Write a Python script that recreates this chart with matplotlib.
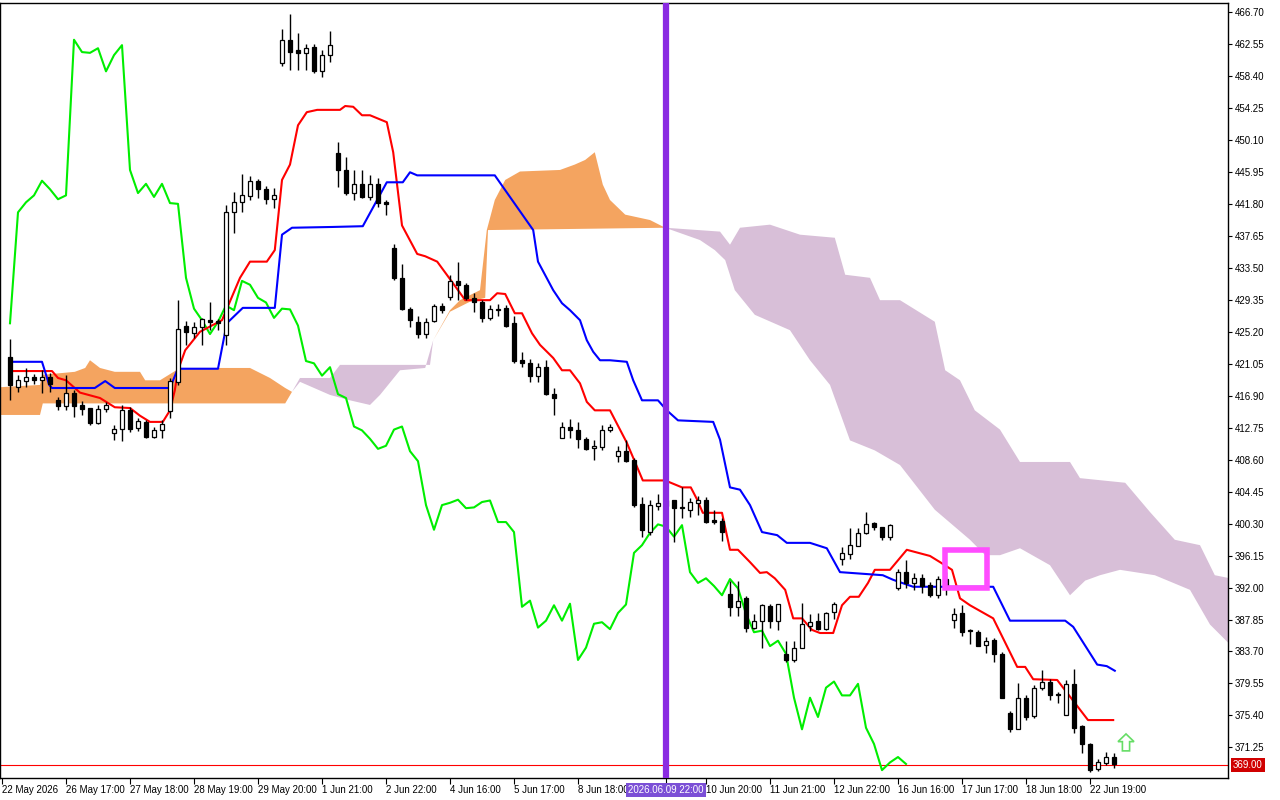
import numpy as np
import matplotlib
matplotlib.use("Agg")
import matplotlib.pyplot as plt
from matplotlib.patches import Rectangle, FancyArrow

plt.rcParams['font.family'] = ['Liberation Sans', 'DejaVu Sans']

# candles: open, high, low, close  (bar index = position in list)
ohlc = [
    (421.9, 424.3, 416.3, 418.3), (418.0, 419.6, 417.4, 419.0), (418.8, 420.5, 418.0, 419.3),
    (419.3, 419.7, 418.4, 419.0), (419.0, 420.2, 417.3, 419.3), (419.3, 419.9, 417.4, 418.4),
    (416.4, 416.7, 415.1, 415.5), (415.5, 419.6, 415.1, 417.3), (417.3, 417.6, 414.1, 415.5),
    (415.7, 416.2, 414.4, 415.2), (415.3, 415.3, 413.1, 413.4), (413.4, 415.7, 413.2, 415.2),
    (415.2, 416.1, 414.8, 415.7), (412.1, 413.1, 411.2, 412.6), (412.6, 415.7, 411.0, 415.0),
    (415.0, 415.4, 412.2, 412.6), (412.7, 414.0, 412.3, 413.6), (413.5, 413.8, 411.4, 411.5),
    (411.5, 412.8, 411.4, 412.4), (412.4, 413.8, 411.4, 413.2), (414.9, 419.2, 414.0, 418.8),
    (418.7, 429.3, 418.3, 425.6), (425.9, 426.6, 423.5, 425.2), (425.0, 426.5, 424.4, 425.8),
    (425.8, 427.0, 423.5, 426.8), (426.7, 429.1, 425.4, 426.5), (426.6, 426.8, 425.4, 426.3),
    (424.8, 441.7, 423.5, 440.7), (440.7, 443.3, 438.0, 442.0), (442.0, 445.7, 440.7, 442.9),
    (442.8, 445.4, 442.3, 444.8), (444.8, 445.0, 442.6, 443.7), (443.7, 444.1, 441.8, 442.4),
    (442.4, 443.9, 441.3, 442.9), (460.1, 464.5, 459.7, 463.1), (463.1, 466.4, 459.2, 461.5),
    (461.8, 464.0, 459.2, 461.4), (461.4, 462.5, 459.2, 462.0), (462.1, 462.5, 458.8, 459.0),
    (459.0, 461.8, 458.3, 461.1), (461.1, 464.2, 460.2, 462.4), (448.4, 449.8, 444.0, 446.2),
    (446.2, 447.9, 442.9, 443.2), (443.2, 446.2, 442.3, 444.4), (444.4, 446.2, 442.6, 442.7),
    (442.7, 445.5, 442.3, 444.4), (444.4, 445.2, 441.4, 441.9), (442.0, 442.3, 440.4, 441.8),
    (436.1, 436.6, 431.9, 432.2), (432.2, 434.0, 428.0, 428.2), (428.2, 428.4, 425.8, 426.7),
    (426.5, 427.2, 424.4, 424.9), (424.9, 427.0, 424.4, 426.5), (426.6, 428.8, 426.5, 428.6),
    (428.5, 428.9, 427.6, 428.0), (429.7, 432.6, 429.3, 431.8), (431.8, 434.2, 429.3, 431.3),
    (431.3, 431.5, 429.3, 429.6), (429.6, 430.2, 427.8, 429.0), (429.0, 429.3, 426.5, 427.0),
    (427.0, 428.7, 426.7, 428.2), (428.0, 428.8, 427.2, 428.1), (428.3, 428.7, 425.8, 426.0),
    (426.3, 427.2, 421.1, 421.4), (421.5, 422.6, 420.6, 421.1), (421.1, 421.7, 418.7, 419.5),
    (419.5, 421.1, 418.7, 420.6), (420.6, 421.5, 417.0, 417.1), (417.1, 417.9, 414.4, 416.6),
    (411.4, 413.5, 411.4, 412.9), (412.9, 413.9, 411.4, 412.4), (412.4, 413.5, 410.1, 411.3),
    (411.3, 411.5, 409.9, 410.0), (410.1, 411.2, 408.6, 410.4), (410.3, 413.1, 409.9, 412.5),
    (412.4, 413.2, 412.2, 412.9), (409.1, 410.4, 408.3, 409.7), (409.7, 411.2, 408.3, 408.4),
    (408.6, 408.8, 402.5, 402.7), (402.9, 403.8, 398.6, 399.5), (399.2, 403.4, 398.8, 402.7),
    (402.6, 404.2, 402.1, 403.0), (402.6, 405.0, 401.0, 403.4), (403.4, 403.4, 397.9, 402.3),
    (402.3, 405.0, 401.0, 402.4), (402.1, 403.6, 401.2, 403.1), (403.0, 403.9, 401.4, 403.3),
    (403.3, 403.8, 400.4, 400.5), (400.8, 402.1, 400.3, 400.5), (400.6, 401.0, 398.1, 399.2),
    (391.2, 392.9, 388.3, 389.5), (389.5, 392.9, 388.3, 390.3), (390.6, 390.9, 386.2, 386.8),
    (386.8, 388.6, 386.6, 387.7), (387.6, 389.9, 384.2, 389.7), (389.6, 389.9, 386.8, 387.7),
    (387.7, 389.9, 386.5, 389.9), (383.4, 385.1, 382.3, 382.6), (382.6, 385.1, 382.3, 384.2),
    (384.2, 390.0, 384.2, 387.3), (387.0, 388.6, 386.4, 387.5), (387.6, 388.7, 386.5, 386.6),
    (386.6, 388.8, 386.5, 388.7), (388.8, 390.1, 387.9, 389.8), (395.7, 397.3, 394.9, 396.5),
    (396.4, 399.7, 395.7, 397.5), (397.4, 399.7, 397.4, 399.1), (399.1, 401.8, 398.9, 400.2),
    (400.4, 400.5, 399.5, 399.9), (399.9, 399.9, 398.2, 398.6), (398.6, 400.3, 398.2, 400.1),
    (391.9, 394.4, 391.7, 394.0), (394.0, 395.6, 392.0, 392.6), (392.6, 393.9, 391.7, 393.2),
    (393.2, 393.8, 391.3, 392.2), (392.3, 392.7, 390.8, 391.0), (391.0, 393.5, 390.7, 393.1),
    (393.1, 394.0, 391.0, 391.9), (387.8, 389.4, 386.8, 388.6), (388.7, 389.7, 385.7, 386.2),
    (386.4, 386.6, 384.7, 386.4), (386.2, 386.5, 384.4, 384.4), (384.5, 385.6, 383.5, 385.1),
    (385.2, 385.5, 382.3, 383.4), (383.4, 383.6, 377.7, 377.7), (375.7, 376.0, 373.3, 373.6),
    (373.7, 379.6, 373.6, 377.7), (377.7, 378.1, 374.8, 375.2), (375.3, 379.4, 375.1, 379.0),
    (379.0, 381.3, 378.7, 379.8), (379.8, 380.1, 377.4, 378.0), (378.1, 378.5, 377.0, 378.0),
    (375.4, 380.0, 375.4, 379.5), (379.5, 381.4, 373.1, 373.8), (374.0, 374.1, 370.5, 371.7),
    (371.7, 371.8, 368.0, 368.3), (368.4, 369.8, 368.2, 369.3), (369.2, 370.7, 369.0, 370.0),
    (370.0, 370.5, 368.6, 369.1),
]

# Tenkan-sen (bar, price)
tenkan_x = [0, 5.25, 6, 7, 8.75, 11.25, 13.1, 15, 16.25, 17.5, 19.1, 20, 20.6, 21, 21.9, 23.75, 26.5,
            28.75, 30, 32.1, 33.1, 34, 35, 36, 37.1, 38.4, 41.25, 41.9, 42.9, 44, 45, 47.1, 47.9, 49,
            50.9, 51.9, 53.4, 54.6, 56, 56.9, 58.4, 60, 60.9, 61.9, 63.1, 64, 65.25, 66.25, 67.9, 69,
            70, 71.25, 72.1, 73.1, 75, 77.1, 79.1, 81.9, 84, 85.1, 85.9, 86.6, 89, 90, 91, 92.5, 93.75,
            94.6, 95.6, 96.9, 97.9, 99, 100.25, 101.25, 102.9, 104, 105, 106.1, 107.25, 108.1, 110,
            112.1, 115, 116.25, 117.75, 118.75, 120, 122.9, 125.9, 126.9, 127.9, 130.9, 134.75, 137.9]
tenkan_y = [420.1, 420.1, 419.2, 418.9, 417.3, 416.6, 415.4, 415.3, 414.3, 413.5, 413.5, 415.0, 417.6,
            420.2, 422.8, 425.2, 426.7, 432.2, 434.3, 434.3, 435.8, 444.9, 446.9, 452.0, 453.7, 454.0,
            454.0, 454.5, 454.4, 453.3, 453.3, 452.4, 448.5, 439.0, 435.3, 435.0, 434.3, 432.6, 430.6,
            429.3, 429.3, 429.3, 430.2, 430.1, 427.6, 427.6, 425.0, 423.5, 421.8, 420.2, 420.2, 418.5,
            416.1, 415.0, 415.0, 410.8, 405.9, 405.9, 405.0, 405.0, 403.4, 401.7, 401.7, 396.9, 396.9,
            395.3, 393.9, 394.0, 393.2, 391.7, 388.0, 388.0, 386.5, 386.1, 386.1, 389.7, 390.8, 390.8,
            392.6, 394.3, 394.3, 396.9, 396.1, 395.3, 394.3, 390.6, 389.7, 388.0, 381.7, 381.7, 380.1,
            380.0, 374.8, 374.8]

# Kijun-sen (bar, price)
kijun_x = [0, 4, 4.9, 5.25, 10.6, 11.9, 13.1, 20, 20.9, 21.25, 26, 27.1, 29.1, 33.1, 34, 35.25, 40.25,
           44.1, 47.1, 49.1, 50, 50.9, 60.6, 65.4, 66, 67.9, 69, 70, 71.25, 72.1, 72.9, 73.75, 75, 77.1,
           77.9, 79, 81, 82.1, 83.5, 87.9, 88.75, 90, 91.25, 92.5, 94, 95.9, 97.1, 100, 102.1, 103.75,
           109.1, 110.4, 112.9, 122.9, 125, 131.9, 132.9, 135.9, 137.1, 138.1]
kijun_y = [421.3, 421.3, 418.3, 417.9, 417.9, 418.8, 417.9, 417.9, 420.2, 420.4, 420.4, 426.3, 428.3,
           428.3, 437.8, 438.7, 438.8, 438.9, 444.6, 444.6, 445.9, 445.5, 445.5, 438.4, 434.3, 430.6,
           428.9, 428.0, 426.7, 424.1, 422.6, 421.5, 421.5, 421.3, 418.9, 416.3, 416.3, 415.0, 413.7,
           413.5, 411.2, 405.0, 404.7, 402.7, 399.2, 398.8, 397.8, 397.8, 397.1, 394.0, 393.6, 393.0,
           392.1, 392.1, 387.7, 387.7, 386.9, 382.0, 381.8, 381.2]

# Kumo outlines (already shifted forward)
orange1_top_x = [-1.25, 3.75, 4, 8.1, 9.4, 10, 11.25, 13.1, 16.25, 16.9, 18.75, 21.25, 30, 32.5, 34.4, 35.25]
orange1_top_y = [418.0, 418.3, 419.6, 420.0, 420.5, 421.5, 420.5, 420.0, 420.0, 418.9, 418.9, 420.5,
                 420.5, 419.2, 417.9, 417.4]
orange1_bot_x = [-1.25, 3.75, 4.1, 34.4, 35.25]
orange1_bot_y = [414.4, 414.4, 415.9, 415.9, 417.4]

thistle1_top_x = [35.25, 36.25, 40, 41.25, 52.5, 52.9]
thistle1_top_y = [417.4, 419.2, 419.2, 420.9, 420.9, 424.1]
thistle1_bot_x = [35.25, 36.25, 40, 42.5, 45, 46.25, 48.75, 51.9, 52.9]
thistle1_bot_y = [417.4, 418.7, 417.0, 416.3, 415.7, 417.0, 420.2, 420.5, 424.1]

orange2_top_x = [52.9, 55, 56.25, 58.75, 59.6, 60.6, 61.9, 63.75, 68.75, 70.6, 71.9, 73.1, 74.1, 75,
                 76.9, 80, 81.9]
orange2_top_y = [424.1, 428.0, 429.3, 430.6, 438.4, 442.3, 444.9, 446.0, 446.2, 446.9, 447.5, 448.5,
                 444.3, 442.3, 440.4, 439.7, 438.7]
orange2_bot_x = [52.9, 55, 57.5, 59.4, 59.75, 81.9]
orange2_bot_y = [424.1, 427.8, 429.1, 429.6, 438.4, 438.7]

thistle2_top_x = [81.9, 88.75, 90, 91.25, 95, 98.75, 103.1, 104.4, 107.5, 108.75, 111.25, 115.6, 116.9,
                  118.75, 120.6, 123.75, 126.25, 132.5, 133.75, 139.4, 142.5, 145.6, 148.75, 150.6, 152.5]
thistle2_top_y = [438.7, 438.2, 436.5, 438.7, 439.1, 437.8, 437.4, 432.6, 432.2, 429.3, 429.3, 426.5,
                  420.2, 418.9, 415.0, 412.5, 408.3, 408.3, 406.2, 405.6, 401.8, 398.2, 397.5, 393.6, 393.2]
thistle2_bot_x = [81.9, 86.25, 88.1, 89.4, 90.6, 93.1, 97.5, 100, 102.5, 105, 108.1, 111.25, 115.6, 120,
                  121.9, 123.75, 126.25, 130, 132.5, 134.4, 136.25, 138.75, 143.1, 147.5, 150, 152.5]
thistle2_bot_y = [438.7, 437.1, 435.8, 434.5, 430.6, 427.4, 425.4, 421.5, 418.3, 411.1, 409.8, 407.9,
                  402.1, 398.2, 396.2, 396.2, 397.1, 394.9, 391.0, 392.9, 393.6, 394.3, 393.6, 391.7,
                  387.2, 384.6]

date_labels = ["22 May 2026", "26 May 17:00", "27 May 18:00", "28 May 19:00", "29 May 20:00",
               "1 Jun 21:00", "2 Jun 22:00", "4 Jun 16:00", "5 Jun 17:00", "8 Jun 18:00",
               "2026.06.09 22:00", "10 Jun 20:00", "11 Jun 21:00", "12 Jun 22:00", "16 Jun 16:00",
               "17 Jun 17:00", "18 Jun 18:00", "22 Jun 19:00"]
price_ticks = [466.70, 462.55, 458.40, 454.25, 450.10, 445.95, 441.80, 437.65, 433.50, 429.35, 425.20,
               421.05, 416.90, 412.75, 408.60, 404.45, 400.30, 396.15, 392.00, 387.85, 383.70, 379.55,
               375.40, 371.25]
last_price = 369.00
cursor_bar = 82
chikou_shift = 26

fig = plt.figure(figsize=(12.8, 8), dpi=100)
ax = fig.add_axes([0.0, 0.0275, 1228 / 1280, 0.96875])
ax.set_xlim(-1.25, 152.25)
ax.set_ylim(367.28, 467.87)

orange = "#f4a460"
thistle = "#d8bfd8"
for tx, ty, bx, by, col in [
    (orange1_top_x, orange1_top_y, orange1_bot_x, orange1_bot_y, orange),
    (thistle1_top_x, thistle1_top_y, thistle1_bot_x, thistle1_bot_y, thistle),
    (orange2_top_x, orange2_top_y, orange2_bot_x, orange2_bot_y, orange),
    (thistle2_top_x, thistle2_top_y, thistle2_bot_x, thistle2_bot_y, thistle),
]:
    ax.fill(np.r_[tx, bx[::-1]], np.r_[ty, by[::-1]], color=col, lw=0, zorder=1)

# chikou span: close plotted 26 bars back
closes = np.array([c[3] for c in ohlc])
idx = np.arange(len(ohlc))
ax.plot(idx[chikou_shift:] - chikou_shift, closes[chikou_shift:], color="#00ee00", lw=1.5, zorder=3)
ax.plot(tenkan_x, tenkan_y, color="red", lw=1.5, zorder=3)
ax.plot(kijun_x, kijun_y, color="blue", lw=1.5, zorder=3)

# candles
for i, (o, h, l, c) in enumerate(ohlc):
    ax.vlines(i, l, h, color="black", lw=1, zorder=4)
    bottom = min(o, c)
    height = max(abs(c - o), 0.12)
    ax.add_patch(Rectangle((i - 0.3, bottom), 0.6, height,
                           facecolor="black" if c < o else "white",
                           edgecolor="black", lw=0.9, zorder=5))

ax.axvline(cursor_bar, color="#8a2be2", lw=4.5, zorder=6)
ax.axhline(last_price, color="red", lw=0.8, zorder=2)
ax.add_patch(Rectangle((116.9, 391.9), 5.2, 5.0, fill=False, edgecolor="#ff4cff", lw=4, zorder=7))
ax.add_patch(FancyArrow(139.5, 370.8, 0, 1.2, width=0.9, head_width=2.0, head_length=1.0,
                        length_includes_head=False, facecolor="white", edgecolor="#66dd66", lw=1.2,
                        zorder=7))

# axes styling
ax.yaxis.tick_right()
ax.set_yticks(price_ticks)
ax.set_yticklabels([f"{p:.2f}" for p in price_ticks], fontsize=7)
ax.tick_params(axis="y", length=3, pad=2)
ax.text(1.004, (last_price - 367.28) / (467.87 - 367.28), f"{last_price:.2f}", transform=ax.transAxes,
        fontsize=7, color="white", va="center", ha="left",
        bbox=dict(boxstyle="square,pad=0.2", fc="#d00000", ec="none"))

xt = [-1 + 8 * k for k in range(len(date_labels))]
xt[date_labels.index("2026.06.09 22:00")] = cursor_bar
ax.set_xticks(xt)
ax.set_xticklabels(date_labels, fontsize=7)
ax.tick_params(axis="x", length=4, pad=1)
for lab in ax.get_xticklabels():
    if lab.get_text().startswith("2026."):
        lab.set_color("white")
        lab.set_ha("center")
        lab.set_zorder(10)
        lab.set_bbox(dict(boxstyle="square,pad=0.2", fc="#7b4fd6", ec="none"))
    else:
        lab.set_ha("left")
for s in ax.spines.values():
    s.set_color("black")
    s.set_linewidth(1)

fig.savefig("out.png", dpi=100)
